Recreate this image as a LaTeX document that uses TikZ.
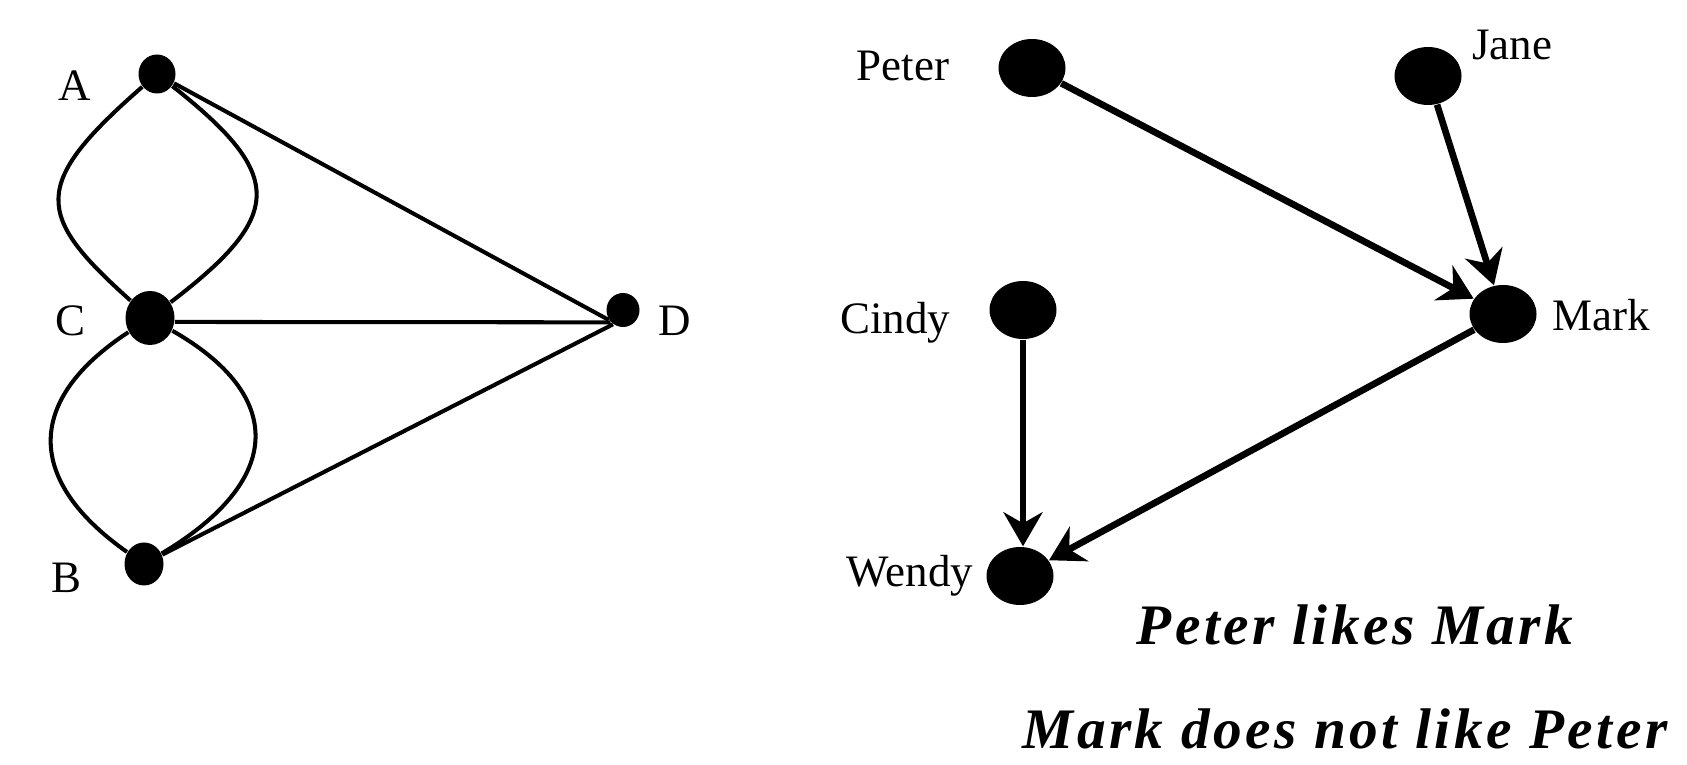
\documentclass[tikz,border=0pt]{standalone}
\usepackage{fontspec}
\setmainfont{Liberation Serif}
\newfontfamily\capfont[LetterSpace=6]{Liberation Serif}
\usetikzlibrary{arrows.meta,shapes.geometric}

\begin{document}
\begin{tikzpicture}[x=0.1mm, y=-0.1mm,
  dot/.style={ellipse, fill=black, inner sep=0pt},
  pdot/.style={dot, minimum width=6.7mm, minimum height=5.8mm},
  lbl/.style={font=\fontsize{12.8}{15}\selectfont, inner sep=0pt},
  link/.style={line width=1.15pt},
  like/.style={-{Stealth[length=3.4mm,width=3.9mm,inset=1.1mm]},
    line width=1.9pt},
  captxt/.style={font=\fontsize{16.3}{19}\selectfont\capfont\bfseries\itshape,
    anchor=base, inner sep=0pt}
]
  \useasboundingbox (0,0) rectangle (1687,765);

  % undirected multigraph
  \node[dot, minimum width=3.7mm, minimum height=3.9mm] (A) at (157,74) {};
  \node[dot, minimum width=4.9mm, minimum height=5.4mm] (C) at (150,318) {};
  \node[dot, minimum width=3.9mm, minimum height=4.3mm] (B) at (144,564) {};
  \node[dot, minimum width=3.3mm, minimum height=3.4mm] (D) at (623,310) {};
  \node[lbl] (la) at (75,86) {A};
  \node[lbl] (lc) at (71,321) {C};
  \node[lbl] (lb) at (67,578) {B};
  \node[lbl] (ld) at (675,321) {D};

  \draw[link] (A) .. controls (30,185) and (35,215) .. (C);
  \draw[link] (A) .. controls (285,175) and (285,215) .. (C);
  \draw[link] (C) .. controls (25,400) and (25,480) .. (B);
  \draw[link] (C) .. controls (285,395) and (285,480) .. (B);
  \draw[link] (A) -- (D.215);
  \draw[link] (C.-9) -- (D.225);
  \draw[link] (B) -- (D.235);

  % directed graph
  \node[pdot] (peter) at (1032,68) {};
  \node[pdot] (jane) at (1428,76) {};
  \node[pdot] (mark) at (1503,314) {};
  \node[pdot] (cindy) at (1023,310) {};
  \node[pdot] (wendy) at (1020,576) {};
  \node[lbl] (lpeter) at (903,66) {Peter};
  \node[lbl] (ljane) at (1512,45) {Jane};
  \node[lbl] (lmark) at (1601,315) {Mark};
  \node[lbl] (lcindy) at (895,323) {Cindy};
  \node[lbl] (lwendy) at (910,576) {Wendy};

  \draw[like] (peter) -- (mark);
  \draw[like] (jane) -- (mark);
  \draw[like] (cindy) -- (cindy |- wendy.north);
  \draw[like] (mark) -- (wendy);

  \node[captxt] (cap1) at (1355,645) {Peter likes Mark};
  \node[captxt] (cap2) at (1345,748) {Mark does not like Peter};
\end{tikzpicture}
\end{document}
